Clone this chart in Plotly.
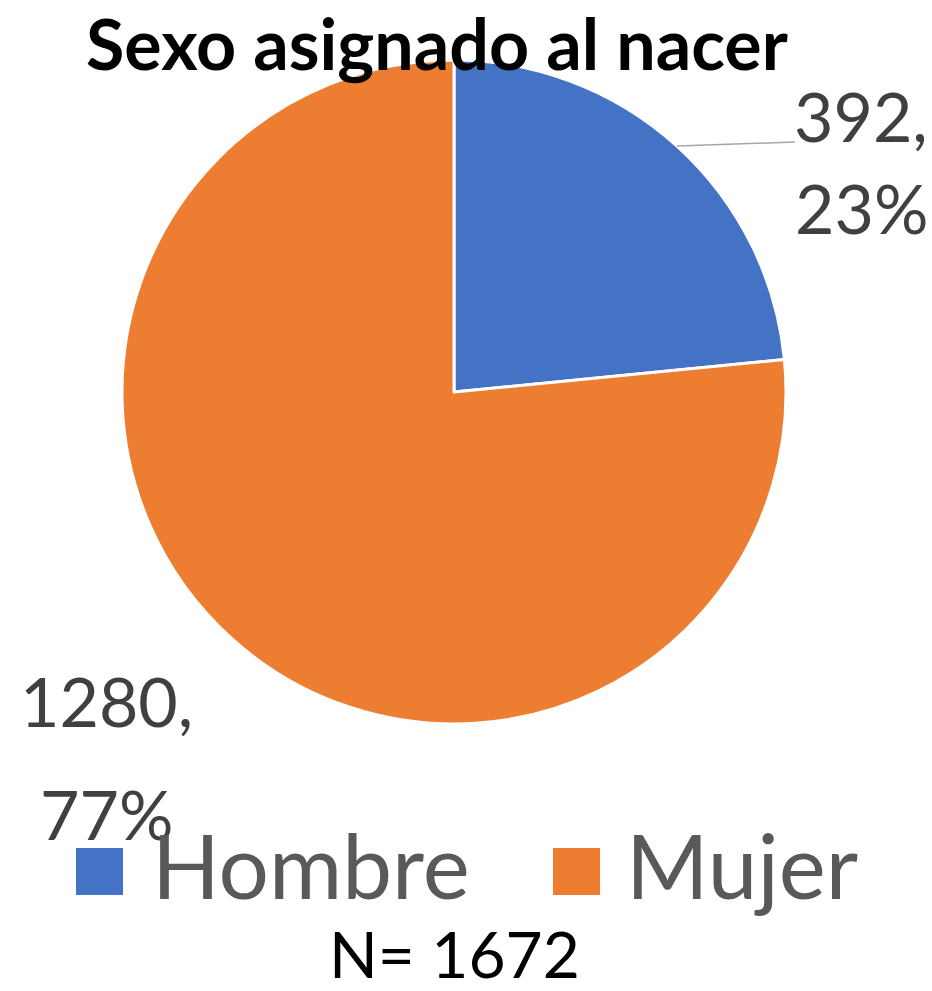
import math
import plotly.graph_objects as go

categories = ["Hombre", "Mujer"]
values = [392, 1280]
colors = ["#4472C4", "#ED7D31"]
title_text = "Sexo asignado al nacer"
total_label = "N= 1672"

W, H = 932, 991
FONT = "Lato"

# pie domain (paper)
dx = [122 / W, 786 / W]
dy = [1 - 724 / H, 1 - 60 / H]

fig = go.Figure(go.Pie(
    labels=categories, values=values, sort=False, direction="clockwise", rotation=0,
    marker=dict(colors=colors, line=dict(color="white", width=3)),
    textinfo="none", hoverinfo="label+value+percent", showlegend=False,
    domain=dict(x=dx, y=dy),
))

total = sum(values)
pcts = [round(v / total * 100) for v in values]

annotations = []
shapes = []

# data labels: two lines each, centred (x centre, top of line1, top of line2)
label_pos = [(861, 73, 165), (106, 658, 771)]
for v, p, (lx, t1, t2) in zip(values, pcts, label_pos):
    for txt, t in ((f"{v},", t1), (f"{p}%", t2)):
        annotations.append(dict(
            text=txt, x=lx / W, y=1 - t / H, xref="paper", yref="paper",
            xanchor="center", yanchor="top", align="center", showarrow=False,
            font=dict(family=FONT, size=68, color="#404040"),
        ))

# leader line for first slice, from slice edge at its mid-angle
cx = (dx[0] + dx[1]) / 2 * W
cy = (1 - (dy[0] + dy[1]) / 2) * H
r = (dx[1] - dx[0]) * W / 2
mid = values[0] / total / 2 * 2 * math.pi
ex, ey = cx + r * math.sin(mid), cy - r * math.cos(mid)
shapes.append(dict(type="line", xref="paper", yref="paper",
                   x0=ex / W, y0=1 - ey / H, x1=795 / W, y1=1 - 142 / H,
                   line=dict(color="#A6A6A6", width=1.5)))

# title
annotations.append(dict(
    text=f"<b>{title_text}</b>", x=437 / W, y=1 - 43 / H, xref="paper", yref="paper",
    xanchor="center", yanchor="middle", showarrow=False, borderpad=0,
    font=dict(family=FONT, size=70, color="black"),
))

# legend (manual, large)
leg_sq_x = [76, 553]
leg_tx_x = [150, 624]
for name, col, sx, tx in zip(categories, colors, leg_sq_x, leg_tx_x):
    shapes.append(dict(type="rect", xref="paper", yref="paper",
                       x0=sx / W, x1=(sx + 47) / W, y0=1 - 895 / H, y1=1 - 848 / H,
                       fillcolor=col, line=dict(width=0)))
    annotations.append(dict(
        text=name, x=tx / W, y=1 - 864 / H, xref="paper", yref="paper",
        xanchor="left", yanchor="middle", showarrow=False,
        font=dict(family=FONT, size=89, color="#595959"),
    ))

# N label
annotations.append(dict(
    text=total_label, x=454 / W, y=1 - 953 / H, xref="paper", yref="paper",
    xanchor="center", yanchor="middle", showarrow=False, borderpad=0,
    font=dict(family=FONT, size=64, color="black"),
))

fig.update_layout(
    width=W, height=H, margin=dict(l=0, r=0, t=0, b=0),
    paper_bgcolor="white", plot_bgcolor="white",
    annotations=annotations, shapes=shapes,
)

fig.write_html("out.html", config={"displayModeBar": False},
               post_script="document.body.style.margin='0';document.body.style.overflow='hidden';")
